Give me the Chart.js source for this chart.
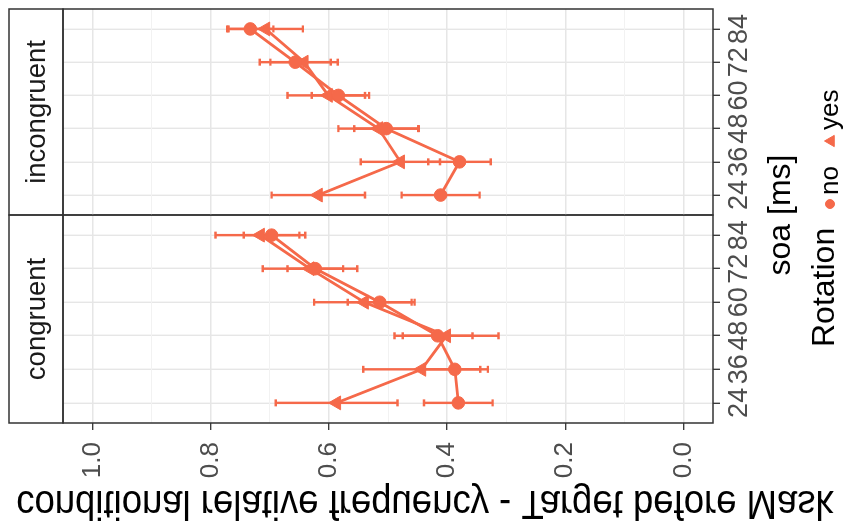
<!DOCTYPE html>
<html>
<head>
<meta charset="utf-8">
<script src="https://cdn.jsdelivr.net/npm/chart.js@4.4.0/dist/chart.umd.min.js"></script>
<style>
body { margin: 0; background: #fff; }
#figure { position: relative; width: 847px; height: 531px; overflow: hidden; background: #fff; }
/* the plot is built upright and turned a quarter turn to the left */
#rotated { position: absolute; left: 0; top: 0; width: 531px; height: 847px; transform-origin: 0 0; transform: translate(0, 531px) rotate(-90deg); }
#rotated canvas { position: absolute; left: 0; top: 0; }
</style>
</head>
<body>
<div id="figure">
  <div id="rotated">
    <canvas id="congruent" width="531" height="847"></canvas>
    <canvas id="incongruent" width="531" height="847"></canvas>
  </div>
</div>
<script>
var soaLabels = ['24', '36', '48', '60', '72', '84'];
var yTicks = [0, 0.1, 0.2, 0.3, 0.4, 0.5, 0.6, 0.7, 0.8, 0.9, 1.0];

// congruent facet
var congruentNo = [0.381, 0.387, 0.416, 0.514, 0.623, 0.697];
var congruentNoErr = [0.058, 0.056, 0.059, 0.054, 0.047, 0.047];
var congruentYes = [0.587, 0.443, 0.401, 0.540, 0.632, 0.716];
var congruentYesErr = [0.103, 0.099, 0.088, 0.085, 0.080, 0.076];

// incongruent facet
var incongruentNo = [0.411, 0.379, 0.503, 0.584, 0.657, 0.733];
var incongruentNoErr = [0.066, 0.053, 0.054, 0.045, 0.060, 0.039];
var incongruentYes = [0.618, 0.479, 0.516, 0.601, 0.642, 0.707];
var incongruentYesErr = [0.079, 0.067, 0.068, 0.069, 0.057, 0.063];

var lineColor = '#F5694A';
var fontFamily = '"Liberation Sans", Arial, Helvetica, sans-serif';

function points(values) {
    return values.map(function(v, i) { return { x: i, y: v }; });
}

function isMajor(v) {
    return Math.round(v * 10) % 2 === 0;
}

var errorBars = {
    id: 'errorBars',
    beforeDatasetsDraw: function(chart) {
        var ctx = chart.ctx, xs = chart.scales.x, ys = chart.scales.y;
        ctx.save();
        ctx.strokeStyle = lineColor;
        ctx.lineWidth = 2.4;
        chart.data.datasets.forEach(function(ds) {
            ds.data.forEach(function(p, i) {
                var x = xs.getPixelForValue(p.x);
                var lo = ys.getPixelForValue(p.y - ds.errors[i]);
                var hi = ys.getPixelForValue(p.y + ds.errors[i]);
                ctx.beginPath();
                ctx.moveTo(x, lo); ctx.lineTo(x, hi);
                ctx.moveTo(x - 3.5, lo); ctx.lineTo(x + 3.5, lo);
                ctx.moveTo(x - 3.5, hi); ctx.lineTo(x + 3.5, hi);
                ctx.stroke();
            });
        });
        ctx.restore();
    }
};

// strip on top of the panel and the panel border
var panelBox = {
    id: 'panelBox',
    afterDraw: function(chart, args, opts) {
        var ctx = chart.ctx, a = chart.chartArea;
        ctx.save();
        ctx.strokeStyle = '#333333';
        ctx.lineWidth = 1.5;
        ctx.strokeRect(a.left, a.top, a.right - a.left, a.bottom - a.top);
        ctx.strokeRect(a.left, 9, a.right - a.left, a.top - 9);
        ctx.fillStyle = '#1A1A1A';
        ctx.font = '27.5px ' + fontFamily;
        ctx.textAlign = 'center';
        ctx.textBaseline = 'middle';
        ctx.fillText(opts.label, (a.left + a.right) / 2, (9 + a.top) / 2 + 1);
        ctx.restore();
    }
};

// axis titles and legend, drawn once on the left chart's canvas
var figureText = {
    id: 'figureText',
    afterDraw: function(chart) {
        var ctx = chart.ctx;
        ctx.save();
        ctx.fillStyle = '#000000';
        ctx.textBaseline = 'alphabetic';

        ctx.font = '32px ' + fontFamily;
        ctx.textAlign = 'center';
        ctx.fillText('soa [ms]', 316, 790);

        ctx.textAlign = 'left';
        ctx.fillText('Rotation', 184, 834);
        ctx.font = '26px ' + fontFamily;
        ctx.fillText('no', 336, 838);
        ctx.fillText('yes', 401, 838);
        ctx.fillStyle = lineColor;
        ctx.strokeStyle = lineColor;
        Chart.helpers.drawPoint(ctx, { pointStyle: 'circle', radius: 4.5, rotation: 0, borderWidth: 1 }, 327, 830);
        Chart.helpers.drawPoint(ctx, { pointStyle: 'triangle', radius: 6.5, rotation: 0, borderWidth: 1 }, 390, 831);
        ctx.restore();

        // value axis title, mirrored as in the source figure
        ctx.save();
        ctx.transform(0, 1, 1.1, 0, 40, 425);
        ctx.fillStyle = '#000000';
        ctx.font = '36.5px ' + fontFamily;
        ctx.textAlign = 'center';
        ctx.textBaseline = 'alphabetic';
        ctx.fillText('conditional relative frequency - Target before Mask', 0, 0);
        ctx.restore();
    }
};

function makeChart(id, label, noVals, noErr, yesVals, yesErr, isLeft) {
    return new Chart(document.getElementById(id), {
        type: 'line',
        data: {
            datasets: [{
                label: 'no',
                data: points(noVals),
                errors: noErr,
                borderColor: lineColor,
                backgroundColor: lineColor,
                borderWidth: 2.8,
                pointStyle: 'circle',
                pointRadius: 6.3,
                pointBorderWidth: 1,
                tension: 0
            }, {
                label: 'yes',
                data: points(yesVals),
                errors: yesErr,
                borderColor: lineColor,
                backgroundColor: lineColor,
                borderWidth: 2.8,
                pointStyle: 'triangle',
                pointRadius: 8,
                pointBorderWidth: 1,
                tension: 0
            }]
        },
        options: {
            responsive: false,
            animation: false,
            layout: { padding: { left: 0, right: isLeft ? 215 : 7, top: 63, bottom: 89 } },
            plugins: {
                legend: { display: false },
                tooltip: { enabled: false },
                panelBox: { label: label }
            },
            scales: {
                x: {
                    type: 'linear',
                    min: -0.6,
                    max: 5.6,
                    afterBuildTicks: function(scale) {
                        scale.ticks = soaLabels.map(function(s, i) { return { value: i }; });
                    },
                    afterFit: function(scale) { scale.height = 45; },
                    border: { display: false },
                    grid: { color: '#E6E6E6', lineWidth: 1.4, tickLength: 7, tickColor: '#333333', tickWidth: 1.3 },
                    ticks: {
                        autoSkip: false,
                        maxRotation: 0,
                        minRotation: 0,
                        padding: 3,
                        color: '#4D4D4D',
                        font: { family: fontFamily, size: 27 },
                        callback: function(v) { return soaLabels[v]; }
                    }
                },
                y: {
                    type: 'linear',
                    min: -0.05,
                    max: 1.05,
                    afterBuildTicks: function(scale) {
                        scale.ticks = yTicks.map(function(v) { return { value: v }; });
                    },
                    afterFit: function(scale) { scale.width = isLeft ? 108 : 316; },
                    border: { display: false },
                    grid: {
                        color: function(c) { return isMajor(c.tick.value) ? '#E6E6E6' : '#F2F2F2'; },
                        lineWidth: function(c) { return isMajor(c.tick.value) ? 1.4 : 1; },
                        drawTicks: isLeft,
                        tickLength: 7,
                        tickWidth: 1.3,
                        tickColor: function(c) { return isMajor(c.tick.value) ? '#333333' : 'rgba(0,0,0,0)'; }
                    },
                    ticks: {
                        display: isLeft,
                        autoSkip: false,
                        padding: 12,
                        color: '#4D4D4D',
                        font: { family: fontFamily, size: 26 },
                        callback: function(v) { return isMajor(v) ? v.toFixed(1) : ''; }
                    }
                }
            }
        },
        plugins: isLeft ? [errorBars, panelBox, figureText] : [errorBars, panelBox]
    });
}

makeChart('congruent', 'congruent', congruentNo, congruentNoErr, congruentYes, congruentYesErr, true);
makeChart('incongruent', 'incongruent', incongruentNo, incongruentNoErr, incongruentYes, incongruentYesErr, false);
</script>
</body>
</html>
